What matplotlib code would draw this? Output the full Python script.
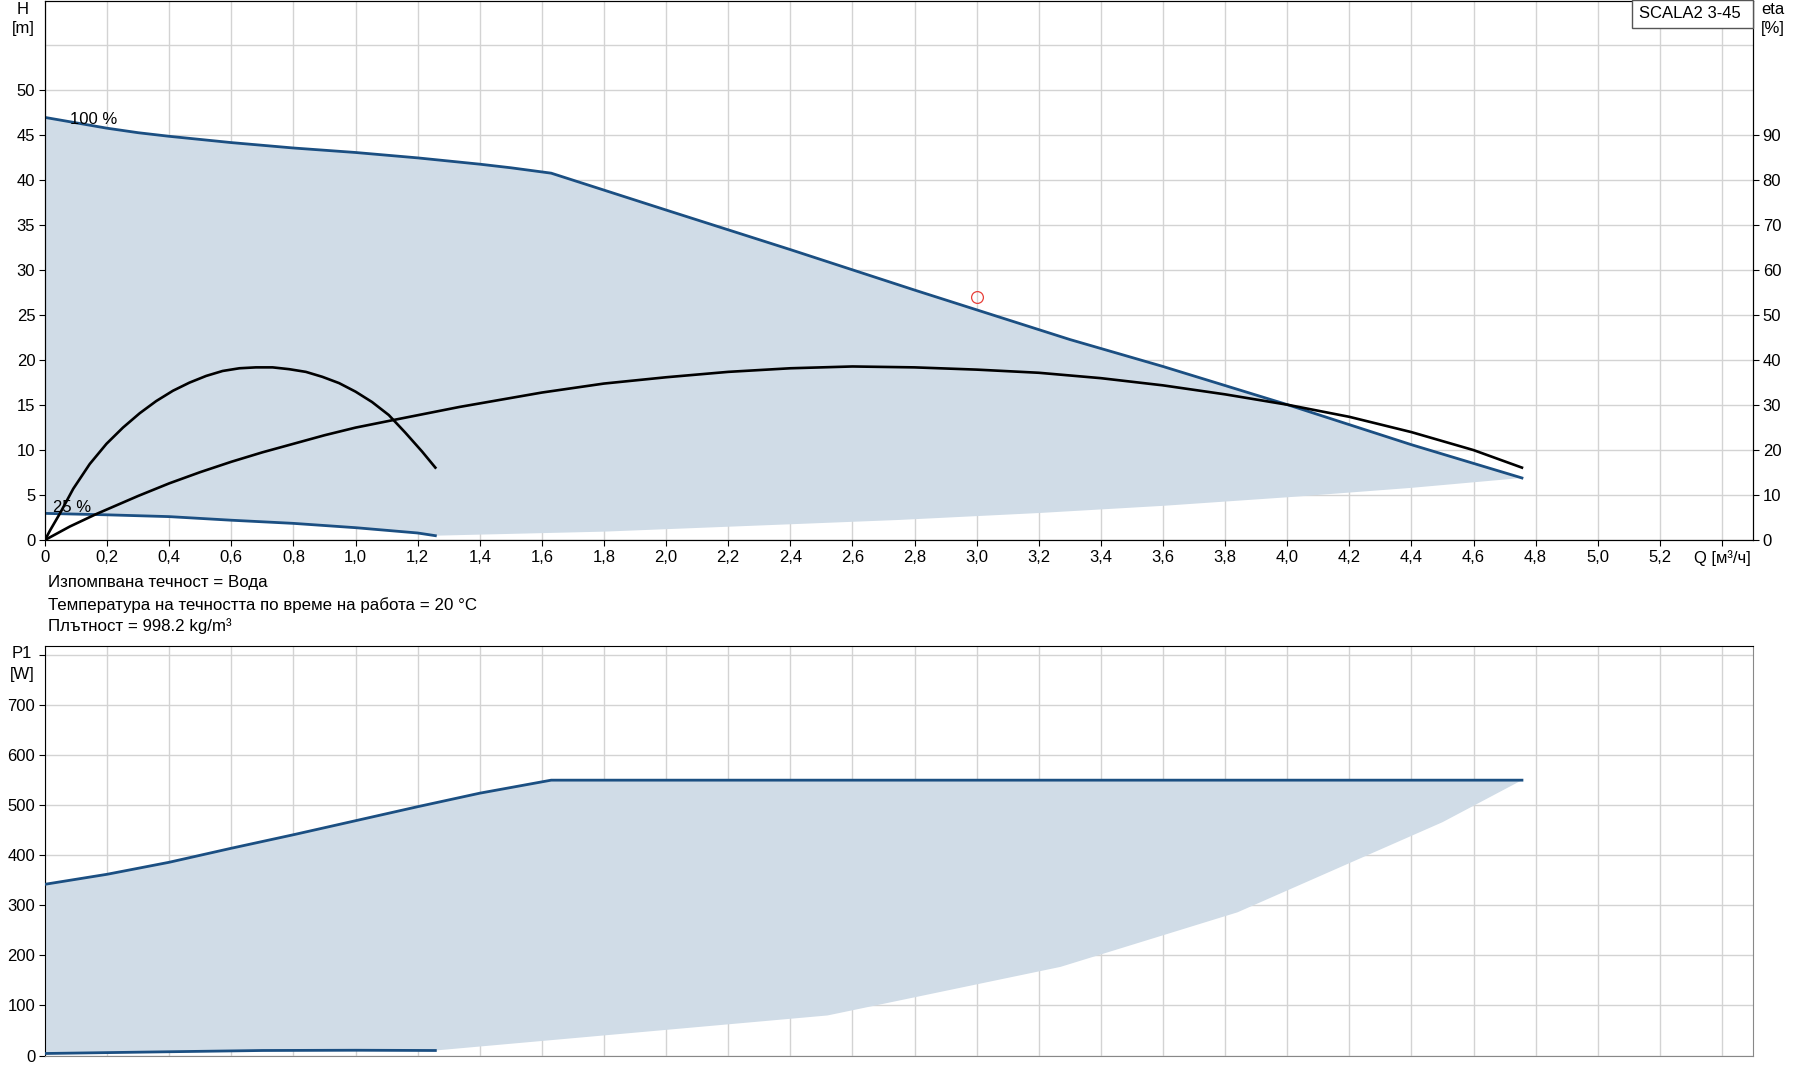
import matplotlib
matplotlib.use('Agg')
import matplotlib.pyplot as plt
from matplotlib.patches import Rectangle
import numpy as np

# ─── Data ─────────────────────────────────────────────────────────
# H curve at 100 % speed
q_h100 = [0, 0.1, 0.2, 0.3, 0.4, 0.6, 0.8, 1.0, 1.1, 1.2, 1.3, 1.4, 1.5, 1.63,
          2.0, 2.4, 2.8, 3.0, 3.3, 3.6, 4.0, 4.4, 4.756]
h_100 = [47.0, 46.4, 45.8, 45.3, 44.9, 44.2, 43.6, 43.1, 42.8, 42.5, 42.15,
         41.8, 41.4, 40.8, 36.7, 32.3, 27.8, 25.6, 22.3, 19.3, 15.06, 10.6, 6.9]

# H curve at 25 % speed
q_h25 = [0, 0.2, 0.4, 0.6, 0.8, 1.0, 1.2, 1.257]
h_25 = [2.96, 2.8, 2.6, 2.2, 1.85, 1.37, 0.78, 0.48]

# lower limit of the operating range (H)
q_hmin = [1.257, 1.8, 2.4, 2.75, 3.2, 3.6, 4.0, 4.4, 4.756]
h_min = [0.48, 0.93, 1.75, 2.23, 3.0, 3.8, 4.75, 5.8, 6.9]

# efficiency curves, eta [%]
q_eta25 = [0, 0.016, 0.048, 0.091, 0.144, 0.198, 0.251, 0.305, 0.358, 0.412,
           0.465, 0.519, 0.572, 0.626, 0.679, 0.733, 0.786, 0.84, 0.893,
           0.947, 1.0, 1.053, 1.107, 1.16, 1.214, 1.257]
eta_25 = [0, 2.1, 5.9, 11.4, 16.9, 21.4, 25.0, 28.2, 30.9, 33.2, 35.0, 36.5,
          37.6, 38.2, 38.4, 38.4, 38.0, 37.4, 36.3, 34.9, 33.0, 30.7, 27.8,
          23.9, 19.7, 16.1]

q_eta100 = [0, 0.08, 0.166, 0.3, 0.4, 0.5, 0.6, 0.7, 0.8, 0.9, 1.0, 1.13,
            1.335, 1.6, 1.8, 2.0, 2.2, 2.4, 2.6, 2.8, 3.0, 3.2, 3.4, 3.6, 3.8,
            4.0, 4.2, 4.4, 4.6, 4.756]
eta_100 = [0, 3.0, 5.8, 9.8, 12.6, 15.1, 17.4, 19.5, 21.4, 23.3, 25.0, 26.8,
           29.6, 32.8, 34.8, 36.2, 37.4, 38.2, 38.6, 38.4, 37.9, 37.2, 36.0,
           34.4, 32.4, 30.1, 27.4, 24.0, 20.0, 16.1]

# duty point
duty_q = [3.0]
duty_h = [27.0]

# P1 curves
q_p100 = [0, 0.2, 0.4, 0.6, 0.8, 1.0, 1.2, 1.4, 1.63, 4.756]
p_100 = [342, 362, 386, 414, 441, 469, 497, 524, 550, 550]

q_p25 = [0, 0.4, 0.7, 1.0, 1.257]
p_25 = [4, 7.5, 10, 10.5, 10]

q_pmin = [1.257, 2.52, 3.27, 3.84, 4.5, 4.756]
p_min = [10, 80, 177, 286, 466, 550]

x_ticks = [round(0.2 * i, 1) for i in range(28)]
x_labels = ['0'] + [f'{v:.1f}'.replace('.', ',') for v in x_ticks[1:-1]] + ['Q [м³/ч]']
h_ticks = list(range(0, 55, 5))
eta_ticks = list(range(0, 100, 10))
p_ticks = list(range(0, 800, 100))

info_lines = ['Изпомпвана течност = Вода',
              'Температура на течността по време на работа = 20 °C',
              'Плътност = 998.2 kg/m³']

# ─── Style ────────────────────────────────────────────────────────
FS = 12
matplotlib.rcParams.update({
    'font.family': ['Liberation Sans', 'DejaVu Sans'],
    'font.size': FS,
    'xtick.labelsize': FS,
    'ytick.labelsize': FS,
    'xtick.major.size': 4,
    'ytick.major.size': 4,
    'xtick.major.pad': 3,
    'ytick.major.pad': 3,
})

BLUE = '#1b4f82'
FILL = '#d0dce7'
GRID = '#d3d3d3'

W, H = 1795, 1081
fig = plt.figure(figsize=(W / 100, H / 100), dpi=100)

left, right = 45 / W, 1753 / W
ax = fig.add_axes([left, 1 - 540 / H, right - left, 540 / H - 0.0005])
axp = fig.add_axes([left, 1 - 1055.5 / H, right - left, (1055.5 - 646) / H])

# ─── Top: H and eta ───────────────────────────────────────────────
fill_q = q_h100 + q_hmin[::-1] + q_h25[::-1]
fill_h = h_100 + h_min[::-1] + h_25[::-1]
ax.fill(fill_q, fill_h, color=FILL, lw=0, zorder=1)
ax.plot(q_h100, h_100, color=BLUE, lw=2.0, zorder=3)
ax.plot(q_h25, h_25, color=BLUE, lw=2.0, zorder=3)
ax.plot(duty_q, duty_h, 'o', ms=8.5, mfc='none', mec='#e8403a', mew=0.9, zorder=4)

ax.text(0.08, 45.9, '100 %', fontsize=FS, va='bottom', zorder=5)
ax.text(0.025, 2.8, '25 %', fontsize=FS, va='bottom', zorder=5)

ax.set_xlim(0, 5.5)
ax.set_ylim(0, 60)
ax.set_xticks(x_ticks)
ax.set_xticklabels(x_labels)
ax.set_yticks(h_ticks)
ax.set_yticks([55], minor=True)
ax.tick_params(axis='y', which='minor', length=0)
ax.grid(True, which='both', color=GRID, lw=1)
ax.set_axisbelow(True)

ax_eta = ax.twinx()
ax_eta.plot(q_eta25, eta_25, color='black', lw=1.9, zorder=3)
ax_eta.plot(q_eta100, eta_100, color='black', lw=1.9, zorder=3)
ax_eta.set_ylim(0, 120)
ax_eta.set_yticks(eta_ticks)
ax_eta.set_xlim(0, 5.5)

fig.text(23 / W, 1 - 10 / H, 'H', ha='center', va='center', fontsize=FS)
fig.text(23 / W, 1 - 29 / H, '[m]', ha='center', va='center', fontsize=FS)
fig.text(1773 / W, 1 - 10 / H, 'eta', ha='center', va='center', fontsize=FS)
fig.text(1773 / W, 1 - 29 / H, '[%]', ha='center', va='center', fontsize=FS)

fig.patches.append(Rectangle((1632 / W, 1 - 28 / H), 121 / W, 28 / H,
                             transform=fig.transFigure, fc='white', ec='#555555',
                             lw=1, zorder=10))
fig.text(1690 / W, 1 - 14 / H, 'SCALA2 3-45', ha='center', va='center',
         fontsize=FS, zorder=11)

for i, line in enumerate(info_lines):
    fig.text(48 / W, 1 - (583 + i * 21.7) / H, line, va='center', fontsize=12.2)

# ─── Bottom: P1 ───────────────────────────────────────────────────
pfill_q = q_p100 + q_pmin[::-1] + q_p25[::-1]
pfill_p = p_100 + p_min[::-1] + p_25[::-1]
axp.fill(pfill_q, pfill_p, color=FILL, lw=0, zorder=1)
axp.plot(q_p100, p_100, color=BLUE, lw=2.0, zorder=3)
axp.plot(q_p25, p_25, color=BLUE, lw=2.0, zorder=3)

axp.set_xlim(0, 5.5)
axp.set_ylim(0, 818)
axp.set_xticks(x_ticks)
axp.tick_params(axis='x', length=0, labelbottom=False)
axp.set_yticks(p_ticks + [800])
axp.set_yticklabels([str(v) for v in p_ticks] + [''])
axp.grid(True, color=GRID, lw=1)
axp.set_axisbelow(True)
axp.spines['bottom'].set_color('#888888')
axp.spines['right'].set_color('#888888')

fig.text(22 / W, 1 - 654 / H, 'P1', ha='center', va='center', fontsize=FS)
fig.text(22 / W, 1 - 674 / H, '[W]', ha='center', va='center', fontsize=FS)

fig.savefig('out.png', dpi=100)
plt.close(fig)
